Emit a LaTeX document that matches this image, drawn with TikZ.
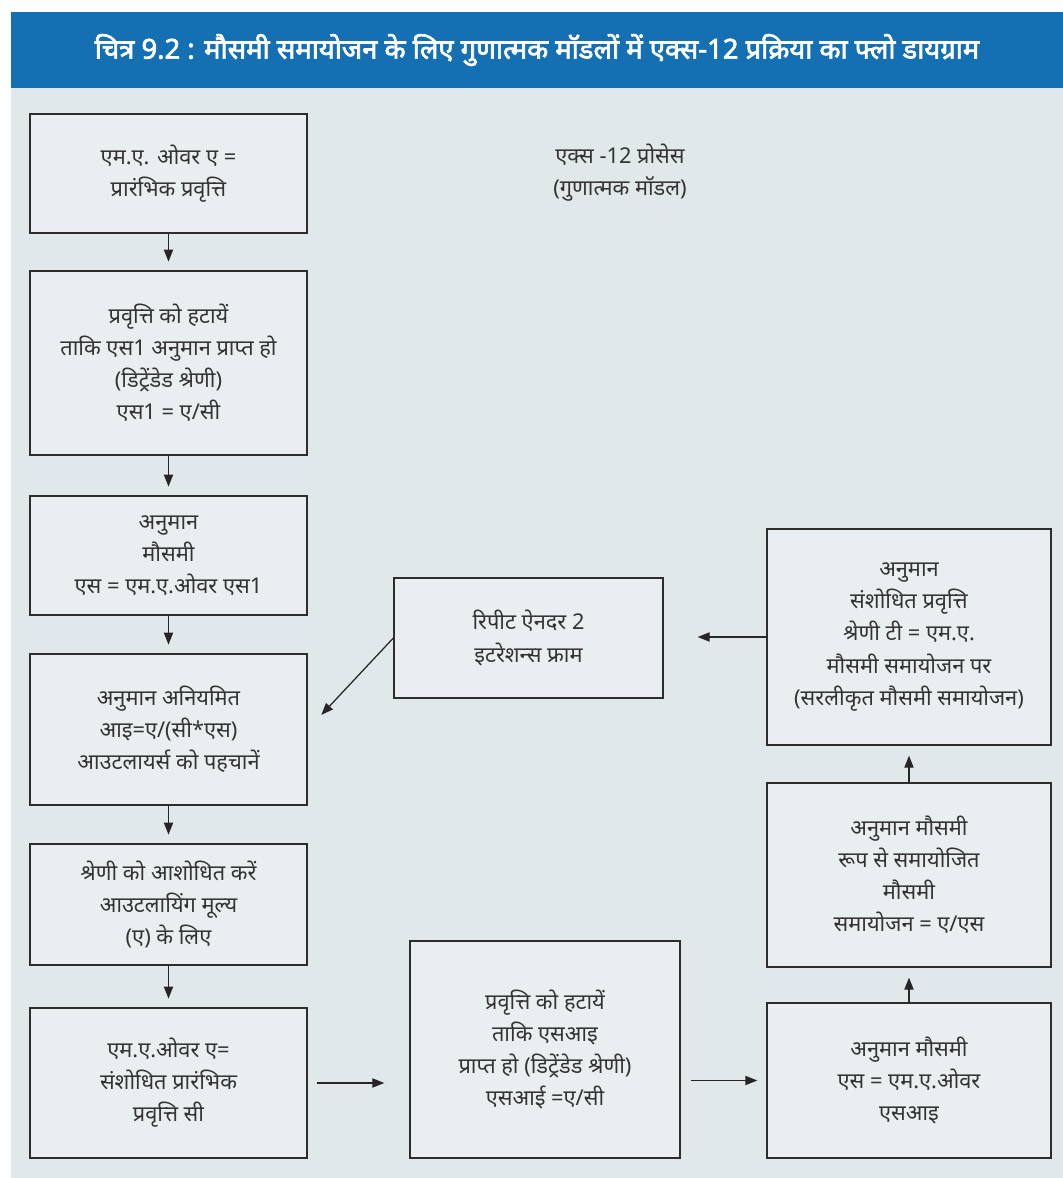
\documentclass[tikz,border=0pt]{standalone}
\usepackage{fontspec}
\setmainfont{Noto Sans}[Script=Devanagari, AutoFakeBold=2.5]
\usetikzlibrary{arrows.meta}

\definecolor{hdrblue}{RGB}{21,112,179}
\definecolor{pagegrey}{RGB}{225,232,234}
\definecolor{boxgrey}{RGB}{233,238,240}
\definecolor{edgegrey}{RGB}{45,45,45}

\begin{document}
\begin{tikzpicture}[x=0.25mm, y=-0.25mm, font=\fontsize{15.5}{22.8}\selectfont, >={Triangle[length=3mm,width=2.3mm]},
	flowbox/.style={draw=edgegrey, fill=boxgrey, line width=0.9pt, align=center, inner sep=0pt, text=black!80},
	flowarrow/.style={->, line width=0.9pt, draw=black!85}]
	\useasboundingbox (0,0) rectangle (1063,1178);
	\fill[pagegrey] (11,88) rectangle (1063,1178);
	\fill[hdrblue] (11,12) rectangle (1063,88);
	\node[text=white, font=\fontsize{19.5}{22}\selectfont\bfseries] (title) at (537,50) {चित्र 9.2 : मौसमी समायोजन के लिए गुणात्मक मॉडलों में एक्स-12 प्रक्रिया का फ्लो डायग्राम};
	\node[align=center, text=black!80] (process) at (620,173) {एक्स -12 प्रोसेस\\(गुणात्मक मॉडल)};
	\node[flowbox, minimum width=69.25mm, minimum height=29.75mm] (b1) at (168.5,173.5) {एम.ए. ओवर ए =\\प्रारंभिक प्रवृत्ति};
	\node[flowbox, minimum width=69.25mm, minimum height=46mm] (b2) at (168.5,363) {प्रवृत्ति को हटायें\\ताकि एस1 अनुमान प्राप्त हो\\(डिट्रेंडेड श्रेणी)\\एस1 = ए/सी};
	\node[flowbox, minimum width=69.25mm, minimum height=29.75mm] (b3) at (168.5,555.5) {अनुमान\\मौसमी\\एस = एम.ए.ओवर एस1};
	\node[flowbox, minimum width=69.25mm, minimum height=37.75mm] (b4) at (168.5,729.5) {अनुमान अनियमित\\आइ=ए/(सी*एस)\\आउटलायर्स को पहचानें};
	\node[flowbox, minimum width=69.25mm, minimum height=30.25mm] (b5) at (168.5,904.5) {श्रेणी को आशोधित करें\\आउटलायिंग मूल्य\\(ए) के लिए};
	\node[flowbox, minimum width=69.25mm, minimum height=37.5mm] (b6) at (168.5,1083) {एम.ए.ओवर ए=\\संशोधित प्रारंभिक\\प्रवृत्ति सी};
	\node[flowbox, minimum width=67.5mm, minimum height=54.25mm] (b7) at (545,1049.5) {प्रवृत्ति को हटायें\\ताकि एसआइ\\प्राप्त हो (डिट्रेंडेड श्रेणी)\\एसआई =ए/सी};
	\node[flowbox, minimum width=71mm, minimum height=38.75mm] (b8) at (909,1080.5) {अनुमान मौसमी\\एस = एम.ए.ओवर\\एसआइ};
	\node[flowbox, minimum width=71mm, minimum height=46mm] (b9) at (909,875) {अनुमान मौसमी\\रूप से समायोजित\\मौसमी\\समायोजन = ए/एस};
	\node[flowbox, minimum width=71mm, minimum height=54mm] (b10) at (909,637) {अनुमान\\संशोधित प्रवृत्ति\\श्रेणी टी = एम.ए.\\मौसमी समायोजन पर\\(सरलीकृत मौसमी समायोजन)};
	\node[flowbox, minimum width=67.25mm, minimum height=30mm] (b11) at (528.5,638) {रिपीट ऐनदर 2\\इटरेशन्स फ्राम};
	\draw[flowarrow, shorten >=2.2mm] (b1) -- (b2);
	\draw[flowarrow, shorten >=2.2mm] (b2) -- (b3);
	\draw[flowarrow, shorten >=2.2mm] (b3) -- (b4);
	\draw[flowarrow, shorten >=2.2mm] (b4) -- (b5);
	\draw[flowarrow, shorten >=2.2mm] (b5) -- (b6);
	\draw[flowarrow, shorten <=2.25mm, shorten >=6.25mm] (b6.east) -- (b6.east -| b7.west);
	\draw[flowarrow, shorten <=2.5mm, shorten >=2.25mm] (b8.west -| b7.east) -- (b8.west);
	\draw[flowarrow, shorten >=2.5mm] (b8) -- (b9);
	\draw[flowarrow, shorten >=2.5mm] (b9) -- (b10);
	\draw[flowarrow, shorten >=8.5mm] (b10.west) -- (b10.west -| b11.east);
	\draw[flowarrow, shorten >=5mm] (b11.west) -- (b4.east);
\end{tikzpicture}
\end{document}
